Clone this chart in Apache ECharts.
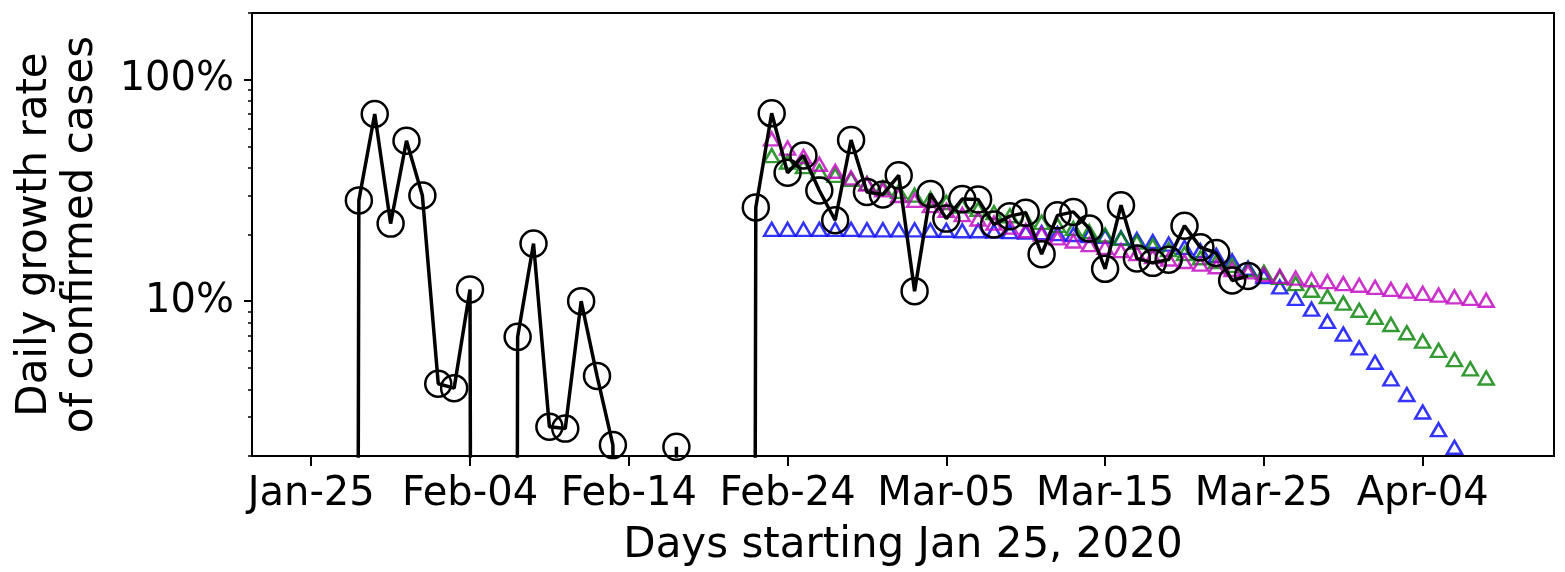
<!DOCTYPE html>
<html><head><meta charset="utf-8">
<script src="https://cdn.jsdelivr.net/npm/echarts@6/dist/echarts.min.js"></script>
<style>html,body{margin:0;padding:0;background:#fff}#c{width:1565px;height:572px}</style>
</head><body><div id="c"></div>
<script>
// X axis: days counted from Jan 25, 2020
const xTickDays = [0, 10, 20, 30, 40, 50, 60, 70];
const xTickLabels = ['Jan-25', 'Feb-04', 'Feb-14', 'Feb-24', 'Mar-05', 'Mar-15', 'Mar-25', 'Apr-04'];
// Y axis (log scale, percent)
const yTickValues = [10, 100];
const yTickLabels = ['10%', '100%'];
const yMinorTickValues = [2, 3, 4, 5, 6, 7, 8, 9, 20, 30, 40, 50, 60, 70, 80, 90, 200];

// Observed daily growth rate (%), day 0 = Jan 25 (0 = no growth)
const observedStartDay = 0;
const observedRates = [0, 0, 0, 28.5, 70, 22.4, 53, 30, 4.24, 4.05, 11.3, 0, 0, 6.9, 18.2, 2.71, 2.66, 10.0, 4.6, 2.24,
  0, 0, 0, 2.2, 0, 0, 0, 0, 26.5, 70.5, 38, 45.5, 31.6, 23.2, 53.4, 31.1, 30.3, 37, 11.1, 30.5,
  23.6, 28.9, 28.8, 22.2, 24.2, 25.1, 16.3, 24.4, 25.3, 21.3, 14.0, 27.1, 15.6, 14.9, 15.4, 21.9, 17.5, 16.5, 12.4, 13.0];

// Model curves (%), starting day 29 (Feb 23)
const modelStartDay = 29;
const magentaRates = [54.0, 49.1, 45.0, 41.5, 38.6, 36.0, 33.8, 31.8, 30.0, 28.5, 27.0, 25.7, 24.6, 23.5, 22.5, 21.6,
  20.8, 20.1, 19.3, 18.7, 18.0, 17.5, 16.9, 16.4, 15.9, 15.5, 15.1, 14.7, 14.3, 13.9, 13.55,
  13.2, 12.95, 12.7, 12.5, 12.25, 12.0, 11.8, 11.55, 11.3, 11.1, 10.85, 10.65, 10.45, 10.3, 10.1];
const greenRates = [45.4, 42.5, 40.5, 38.6, 37.0, 35.5, 34.0, 32.6, 31.3, 30.1, 29.0, 27.9, 26.9, 26.0, 25.1, 24.3,
  23.5, 22.7, 22.0, 21.3, 20.6, 19.9, 19.2, 18.5, 17.8, 17.1, 16.4, 15.7, 15.1, 14.5, 13.9,
  13.5, 12.8, 12.0, 11.2, 10.5, 9.8, 9.1, 8.45, 7.85, 7.2, 6.6, 6.0, 5.45, 4.95, 4.5];
const blueRates = [21.1, 21.1, 21.1, 21.1, 21.1, 21.1, 21.0, 21.0, 21.0, 21.0, 20.9, 20.9, 20.8, 20.8,
  20.7, 20.6, 20.5, 20.4, 20.2, 20.0, 19.8, 19.6, 19.3, 19.0, 18.6, 18.1, 17.5, 16.9, 16.1, 15.2, 14.1,
  12.9, 11.6, 10.3, 9.2, 8.1, 7.1, 6.15, 5.3, 4.46, 3.79, 3.16, 2.63, 2.19];

const FONT = 'DejaVu Sans';
// zero rates sit at -infinity on a log scale; use a tiny floor so the line drops off the bottom
const ZERO_FLOOR = 1e-30;
const toPairs = (start, arr) => arr.map((v, i) => [start + i, v > 0 ? v : ZERO_FLOOR]);

const triangle = (color) => ({
  type: 'scatter',
  symbol: 'triangle',
  symbolSize: [15, 13],
  itemStyle: { color: 'rgba(0,0,0,0)', borderColor: color, borderWidth: 2.5 },
  clip: true,
  z: 2
});

const chart = echarts.init(document.getElementById('c'), null, { renderer: 'canvas' });
chart.setOption({
  animation: false,
  backgroundColor: '#fff',
  grid: { left: 252, right: 11, top: 13, bottom: 112, show: true, borderColor: '#000', borderWidth: 2, containLabel: false },
  xAxis: {
    type: 'value', min: -3.73, max: 78.27,
    name: 'Days starting Jan 25, 2020', nameLocation: 'middle', nameGap: 69,
    nameTextStyle: { fontFamily: FONT, fontSize: 42, color: '#000' },
    axisLine: { show: true, onZero: false, lineStyle: { color: '#000', width: 2 } },
    axisTick: { show: true, customValues: xTickDays, length: 10, lineStyle: { color: '#000', width: 2 } },
    axisLabel: {
      customValues: xTickDays, fontFamily: FONT, fontSize: 40, color: '#000', margin: 19,
      formatter: (v) => xTickLabels[xTickDays.indexOf(Math.round(v))]
    },
    splitLine: { show: false }
  },
  yAxis: [{
    type: 'log', logBase: 10, min: 2, max: 200,
    name: 'Daily growth rate\nof confirmed cases', nameLocation: 'middle', nameGap: 148, nameRotate: 90,
    nameTextStyle: { fontFamily: FONT, fontSize: 42, lineHeight: 46, color: '#000' },
    axisLine: { show: true, onZero: false, lineStyle: { color: '#000', width: 2 } },
    axisTick: { show: true, customValues: yTickValues, length: 8, lineStyle: { color: '#000', width: 2 } },
    axisLabel: {
      customValues: yTickValues, fontFamily: FONT, fontSize: 40, color: '#000', margin: 18,
      formatter: (v) => yTickLabels[yTickValues.indexOf(Math.round(v))]
    },
    splitLine: { show: false }
  }, {
    type: 'log', logBase: 10, min: 2, max: 200, position: 'left', offset: 0,
    axisLine: { show: false, onZero: false },
    axisTick: { show: true, customValues: yMinorTickValues, length: 4, lineStyle: { color: '#000', width: 1.5 } },
    axisLabel: { show: false },
    splitLine: { show: false }
  }],
  series: [
    Object.assign(triangle('#0000ff'), { name: 'blue', data: toPairs(modelStartDay, blueRates) }),
    Object.assign(triangle('#008000'), { name: 'green', data: toPairs(modelStartDay, greenRates) }),
    Object.assign(triangle('#bf00bf'), { name: 'magenta', data: toPairs(modelStartDay, magentaRates) }),
    {
      name: 'observed', type: 'line', data: toPairs(observedStartDay, observedRates),
      symbol: 'circle', symbolSize: 26, showAllSymbol: true, clip: true,
      itemStyle: { color: 'rgba(0,0,0,0)', borderColor: '#000', borderWidth: 2.5 },
      lineStyle: { color: '#000', width: 3.5 },
      z: 3
    }
  ]
});
</script>
</body></html>
